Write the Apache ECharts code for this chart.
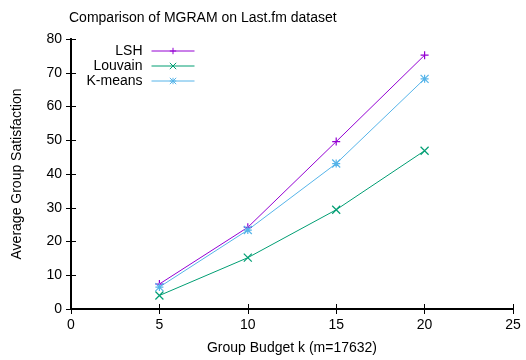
<!DOCTYPE html>
<html>
<head>
<meta charset="utf-8">
<script src="https://cdn.jsdelivr.net/npm/echarts@6/dist/echarts.min.js"></script>
<style>
  html, body { margin: 0; padding: 0; background: #fff; }
  #chart { width: 526px; height: 360px; }
</style>
</head>
<body>
<div id="chart"></div>
<script>
// data
const budgets = [5, 10, 15, 20];
const lshValues = [7.4, 24.2, 49.6, 75.2];
const louvainValues = [4.0, 15.2, 29.4, 46.9];
const kmeansValues = [6.5, 23.4, 43.1, 68.2];
const seriesNames = ["LSH", "Louvain", "K-means"];

const FONT = "Liberation Sans";
const colors = ["#9400d3", "#009e73", "#56b4e9"];

// gnuplot point types: plus, cross, star
const symbols = [
  "path://M0,5L10,5M5,0L5,10",
  "path://M0,0L10,10M0,10L10,0",
  "path://M0,5L10,5M5,0L5,10M0,0L10,10M0,10L10,0",
];

const chart = echarts.init(document.getElementById("chart"));

function pairs(values) {
  return budgets.map((b, i) => [b, values[i]]);
}

const allValues = [lshValues, louvainValues, kmeansValues];

const mainAxis = {
  axisLine: { show: true, lineStyle: { color: "#000", width: 2 } },
  axisTick: { show: true, inside: true, length: 5, lineStyle: { color: "#000" } },
  splitLine: { show: false },
};

const option = {
  animation: false,
  color: colors,
  title: {
    text: "Comparison of MGRAM on Last.fm dataset",
    left: 64,
    top: 6,
    textStyle: { fontFamily: FONT, fontSize: 14, fontWeight: "normal", color: "#000" },
  },
  legend: seriesNames.map((name, i) => ({
    data: [name],
    orient: "vertical",
    align: "right",
    right: 331,
    top: 44 + i * 15,
    itemWidth: 43,
    itemHeight: 8,
    itemGap: 0,
    padding: 0,
    selectedMode: false,
    lineStyle: { width: 1 },
    itemStyle: { borderWidth: 1 },
    textStyle: { fontFamily: FONT, fontSize: 14, color: "#000", padding: [0, 4, 0, 0] },
  })),
  grid: { left: 71, right: 13, top: 39, bottom: 49 },
  xAxis: [
    {
      ...mainAxis,
      type: "value",
      min: 0,
      max: 25,
      interval: 5,
      name: "Group Budget k (m=17632)",
      nameLocation: "middle",
      nameGap: 32,
      nameTextStyle: { fontFamily: FONT, fontSize: 14, color: "#000" },
      axisLabel: { fontFamily: FONT, fontSize: 14, color: "#000", margin: 9 },
    },
    {
      ...mainAxis,
      type: "value",
      position: "top",
      min: 0,
      max: 25,
      interval: 5,
      axisLabel: { show: false },
    },
  ],
  yAxis: [
    {
      ...mainAxis,
      type: "value",
      min: 0,
      max: 80,
      interval: 10,
      name: "Average Group Satisfaction",
      nameLocation: "middle",
      nameGap: 47,
      nameTextStyle: { fontFamily: FONT, fontSize: 14, color: "#000" },
      axisLabel: { fontFamily: FONT, fontSize: 14, color: "#000", margin: 9 },
    },
    {
      ...mainAxis,
      type: "value",
      position: "right",
      min: 0,
      max: 80,
      interval: 10,
      axisLabel: { show: false },
    },
  ],
  series: seriesNames.map((name, i) => ({
    name,
    type: "line",
    data: pairs(allValues[i]),
    symbol: symbols[i],
    symbolSize: 8,
    lineStyle: { width: 1, color: colors[i] },
    itemStyle: { color: "transparent", borderColor: colors[i], borderWidth: 1.2 },
    emphasis: { disabled: true },
  })),
};

chart.setOption(option);
</script>
</body>
</html>
